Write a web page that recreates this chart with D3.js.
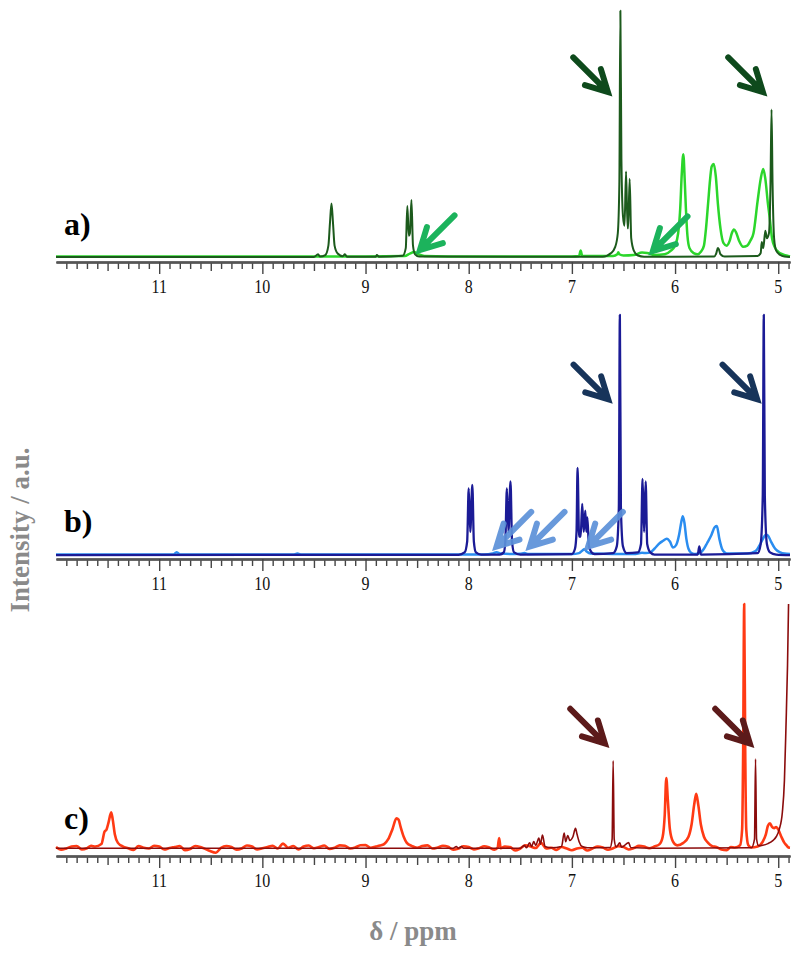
<!DOCTYPE html>
<html><head><meta charset="utf-8">
<script src="https://cdn.jsdelivr.net/npm/d3@7"></script>
<style>html,body{margin:0;padding:0;background:#fff}svg{display:block}</style>
</head><body>
<svg id="chart" width="800" height="956"></svg>
<script>
// ---------- DATA ----------
const tickLabels = [11, 10, 9, 8, 7, 6, 5];
const xDomain = [12.0, 4.886];
const panelLabels = ["a)", "b)", "c)"];

// panel a : [ppm, relative intensity %]
const specA_dark = [[12,0.4],[9.5,0.4],[9.46,1.5],[9.44,0.6],[9.39,1.2],[9.36,5],[9.345,14],[9.33,22],[9.315,14],[9.30,5],[9.27,1.8],[9.22,0.7],[9.2,1.5],[9.18,0.5],[8.9,0.5],[8.89,1.2],[8.87,0.5],[8.64,0.9],[8.61,4],[8.595,21],[8.58,9],[8.57,10],[8.555,23.5],[8.54,5],[8.52,1.5],[8.48,0.6],[6.70,0.5],[6.62,2],[6.58,4.5],[6.555,10],[6.54,30],[6.53,100],[6.52,40],[6.505,17],[6.49,13],[6.475,35],[6.46,12],[6.455,12],[6.44,32],[6.425,8],[6.40,3],[6.36,1],[6.3,0.5],[5.62,0.6],[5.60,2],[5.585,4],[5.575,3.5],[5.56,1.5],[5.52,0.6],[5.2,0.8],[5.17,2],[5.16,6.5],[5.145,4],[5.125,11],[5.11,8],[5.09,10],[5.075,30],[5.065,60],[5.055,30],[5.04,8],[5.02,3],[4.98,1.2],[4.94,0.6],[4.886,0.4]];
const specA_light = [[12,0.6],[9.0,0.6],[8.62,0.8],[8.57,1.8],[8.53,2.4],[8.49,1.6],[8.43,0.8],[8.2,0.6],[7.0,0.6],[6.93,0.8],[6.915,3],[6.90,0.8],[6.6,0.8],[6.56,1.5],[6.55,2.3],[6.54,1.5],[6.5,1],[6.4,1.2],[6.32,2.2],[6.27,2.0],[6.2,1.2],[6.1,1.5],[6.04,3],[6.0,5],[5.97,10],[5.95,20],[5.935,34],[5.92,42],[5.905,30],[5.895,20],[5.88,9],[5.86,4],[5.82,2],[5.78,1.5],[5.75,2.5],[5.72,5],[5.70,12],[5.68,22],[5.66,32],[5.645,37],[5.625,38],[5.605,33],[5.585,22],[5.56,12],[5.53,6],[5.50,5],[5.47,7],[5.45,10],[5.43,11.5],[5.41,10.5],[5.38,7],[5.34,4.5],[5.3,5],[5.27,7],[5.24,10],[5.20,23],[5.17,32],[5.145,36],[5.125,32],[5.10,22],[5.085,17],[5.06,8],[5.035,4.5],[5.0,2.5],[4.955,1.5],[4.92,1],[4.886,0.6]];

// panel b
const specB_dark = [[12,0.4],[8.1,0.5],[8.04,1.5],[8.015,6],[8.0,28],[7.985,10],[7.965,29.5],[7.95,6],[7.93,1.5],[7.88,0.6],[7.7,0.6],[7.66,1.5],[7.645,6],[7.63,28],[7.615,10],[7.595,31],[7.58,6],[7.56,1.5],[7.5,0.6],[7.0,0.8],[6.97,3],[6.955,10],[6.945,36.6],[6.93,8],[6.915,8],[6.90,21.6],[6.885,10],[6.87,18.8],[6.86,10],[6.85,16],[6.835,4],[6.81,1.5],[6.78,0.8],[6.6,1.2],[6.565,4],[6.545,20],[6.535,100],[6.525,20],[6.505,4],[6.47,1.2],[6.36,1.5],[6.33,5],[6.315,32],[6.30,10],[6.285,31],[6.27,5],[6.24,1.5],[6.2,0.6],[5.78,0.6],[5.765,4],[5.75,0.6],[5.2,1.2],[5.17,5],[5.15,25],[5.14,100],[5.13,25],[5.11,5],[5.08,1.5],[5.02,0.6],[4.886,0.4]];
const specB_light = [[12,0.6],[10.86,0.6],[10.83,1.6],[10.80,0.6],[9.7,0.6],[9.66,1],[9.62,0.6],[7.85,0.6],[7.77,1],[7.73,1.6],[7.69,1],[7.6,0.8],[7.5,0.9],[7.46,1.2],[7.42,0.8],[7.0,0.8],[6.93,1.2],[6.9,2.2],[6.88,2.8],[6.86,2],[6.82,1],[6.6,0.8],[6.4,0.8],[6.32,1.3],[6.28,1.2],[6.24,1.5],[6.2,3],[6.15,5.3],[6.12,6.2],[6.08,7.2],[6.05,6],[6.02,3.5],[5.99,4.5],[5.96,9],[5.94,14],[5.925,16.5],[5.91,14],[5.89,7],[5.87,3],[5.84,1.2],[5.8,0.8],[5.75,1.5],[5.72,3],[5.69,5.3],[5.65,8.5],[5.615,12],[5.595,12.4],[5.57,7],[5.54,2.5],[5.5,1],[5.3,1],[5.22,2],[5.18,4.5],[5.15,7],[5.12,8.8],[5.10,8.5],[5.07,6],[5.03,3],[4.98,1.5],[4.94,1],[4.886,0.8]];

// panel c
const specC_dark = [[12,0.3],[8.15,0.3],[8.12,1],[8.10,0.3],[8.07,1],[8.05,0.3],[7.5,0.3],[7.46,1.5],[7.44,0.5],[7.41,2.5],[7.39,1],[7.37,3],[7.35,1.5],[7.32,4.5],[7.305,2],[7.285,5.7],[7.26,1],[7.2,0.5],[7.1,1],[7.075,6.5],[7.06,3],[7.04,5.5],[7.02,3.5],[6.99,5],[6.965,8.4],[6.95,6],[6.93,3],[6.9,1],[6.85,0.5],[6.63,0.6],[6.61,4],[6.60,36],[6.59,4],[6.57,0.8],[6.535,2.5],[6.52,0.7],[6.45,2.6],[6.43,0.6],[6.2,0.3],[5.26,0.5],[5.23,4],[5.22,36.7],[5.21,4],[5.19,1.3],[5.15,1.5],[5.1,2.2],[5.05,3.5],[5.02,5],[4.99,8],[4.96,15],[4.94,28],[4.925,50],[4.91,75],[4.9,100]];
const specC_light = [[12,0.8],[11.95,-0.3],[11.9,0.2],[11.85,1],[11.8,1.2],[11.75,-0.2],[11.7,0.3],[11.66,1.3],[11.62,1],[11.56,2],[11.53,7],[11.51,8],[11.49,11],[11.465,15],[11.45,12],[11.43,6],[11.4,2.5],[11.35,1],[11.3,0.3],[11.25,-0.4],[11.2,1.2],[11.15,0.5],[11.1,0.2],[11.05,1.3],[11.0,1],[10.95,-0.2],[10.9,0.4],[10.85,0.8],[10.8,1.2],[10.75,-0.5],[10.7,0],[10.65,1.2],[10.6,0.8],[10.52,-0.6],[10.45,-1.5],[10.4,0.5],[10.35,1.2],[10.3,0.8],[10.25,-0.3],[10.2,0.2],[10.15,1.4],[10.1,1],[10.05,-0.2],[10.0,0.3],[9.95,0.8],[9.9,1.3],[9.85,0.2],[9.8,2.2],[9.75,0.5],[9.7,1.2],[9.65,-0.2],[9.6,1],[9.55,1.4],[9.5,0.3],[9.45,0.8],[9.4,1.4],[9.35,0],[9.3,0.5],[9.25,1.5],[9.2,1.3],[9.15,0.2],[9.1,0.6],[9.05,1.5],[9.0,1.6],[8.95,0.5],[8.9,1],[8.86,1.4],[8.82,2],[8.78,4],[8.74,8],[8.70,12.5],[8.68,12],[8.66,9],[8.63,5],[8.60,2.5],[8.55,1.2],[8.5,0.5],[8.45,1.2],[8.4,1.5],[8.35,0.2],[8.3,0.6],[8.25,1.3],[8.2,0.9],[8.15,-0.3],[8.1,0.2],[8.05,1.1],[8.0,0.8],[7.95,-0.2],[7.9,0.3],[7.85,1.1],[7.8,0.6],[7.75,-0.3],[7.72,0.5],[7.705,4.5],[7.69,0.3],[7.65,1],[7.6,0.8],[7.55,-0.6],[7.5,0.2],[7.45,1.5],[7.4,1],[7.35,0.4],[7.3,2.5],[7.25,0.2],[7.2,0.5],[7.15,-0.4],[7.1,0.8],[7.05,0.2],[7.0,-0.5],[6.95,0.2],[6.9,0.5],[6.85,-0.6],[6.8,0.2],[6.75,1],[6.7,0.6],[6.65,-0.3],[6.6,0.3],[6.55,1.1],[6.5,0.8],[6.45,-0.2],[6.4,0.4],[6.35,1.3],[6.3,1],[6.25,0.3],[6.2,1],[6.15,2],[6.12,5],[6.10,14],[6.085,29],[6.07,20],[6.05,8],[6.02,3],[5.98,1.5],[5.92,2.5],[5.87,5],[5.84,10],[5.815,18],[5.795,22.5],[5.775,18],[5.75,10],[5.72,5],[5.68,2.5],[5.64,1.2],[5.6,0.8],[5.55,-0.2],[5.5,-0.5],[5.46,0.8],[5.42,0.6],[5.37,1.5],[5.35,8],[5.34,40],[5.33,100],[5.32,40],[5.31,8],[5.29,1.5],[5.26,0.6],[5.2,1],[5.15,3],[5.12,6],[5.10,9.5],[5.08,10.5],[5.06,9],[5.04,8.5],[5.02,9],[5.0,8],[4.97,5],[4.94,2.5],[4.92,1.5],[4.9,0.6],[4.886,0.5]];

// arrows: tip [ppm, intensity %]
const arrowsA_dark = [[6.651, 67.1], [5.149, 67.1]];
const arrowsA_light = [[8.473, 3.2], [6.215, 2.8]];
const arrowsB_dark = [[6.648, 65.0], [5.204, 65.0]];
const arrowsB_light = [[7.730, 3.9], [7.407, 3.9], [6.842, 3.9]];
const arrowsC_dark = [[6.680, 43.1], [5.275, 43.1]];

// ---------- LAYOUT ----------
const svg = d3.select("#chart");
const x = d3.scaleLinear().domain(xDomain).range([56, 790]);
const panels = [
  {axisY: 262, base: 258, top: 10.7, label: panelLabels[0],
   series: [{d: specA_light, c: "#2bd62b", w: 2.5}, {d: specA_dark, c: "#1c5a1c", w: 2}],
   arrows: [{d: arrowsA_dark, c: "#0e4a1c", dir: "dr"}, {d: arrowsA_light, c: "#1cb35c", dir: "dl"}]},
  {axisY: 559, base: 556, top: 315, label: panelLabels[1],
   series: [{d: specB_light, c: "#2a8df0", w: 2.5}, {d: specB_dark, c: "#1b1b96", w: 2.3}],
   arrows: [{d: arrowsB_dark, c: "#17345a", dir: "dr"}, {d: arrowsB_light, c: "#5b90d8", dir: "dl", op: 0.92}]},
  {axisY: 856, base: 849, top: 604, label: panelLabels[2],
   series: [{d: specC_light, c: "#ff3a14", w: 2.6}, {d: specC_dark, c: "#8b0c0c", w: 1.6}],
   arrows: [{d: arrowsC_dark, c: "#5c1a1a", dir: "dr"}]}
];

const serif = "'Liberation Serif','Times New Roman',serif";

panels.forEach(p => {
  const y = d3.scaleLinear().domain([0, 100]).range([p.base, p.top]);
  const g = svg.append("g");

  const mk = (vals, size) => d3.axisBottom(x).tickValues(vals).tickSize(size).tickFormat("").tickSizeOuter(0);
  const minorVals = d3.range(49, 120).map(v => v / 10).filter(v => Math.abs(v * 2 - Math.round(v * 2)) > 1e-6);
  const halfVals = d3.range(10, 24).map(v => v / 2).filter(v => v % 1 !== 0 && v < 12 && v > 4.886);
  [[minorVals, 7], [halfVals, 9], [tickLabels, 12]].forEach(([vals, s]) => {
    const a = g.append("g").attr("transform", `translate(0,${p.axisY})`).call(mk(vals, s));
    a.select(".domain").attr("stroke", "#555").attr("stroke-width", 2);
    a.selectAll(".tick line").attr("stroke", "#444").attr("stroke-width", 1.4);
  });
  g.selectAll("text.tl").data(tickLabels).enter().append("text")
    .attr("transform", d => `translate(${x(d)},${p.axisY + 31}) scale(0.82,1)`)
    .attr("text-anchor", "middle").attr("font-family", serif).attr("font-size", 19.5)
    .attr("fill", "#111").text(d => d);

  const line = d3.line().x(d => x(d[0])).y(d => y(d[1])).curve(d3.curveMonotoneX);
  p.series.forEach(s => {
    g.append("path").datum(s.d).attr("d", line).attr("fill", "none")
      .attr("stroke", s.c).attr("stroke-width", s.w).attr("stroke-linejoin", "round");
  });

  p.arrows.forEach(a => {
    a.d.forEach(t => {
      const tx = x(t[0]), ty = y(t[1]);
      const sx = a.dir === "dr" ? 1 : -1;
      const L = 49, B = 24, ang = 28 * Math.PI / 180;
      const ux = sx / Math.SQRT2, uy = 1 / Math.SQRT2;
      const bx = -ux, by = -uy;
      const rot = (vx, vy, th) => [vx * Math.cos(th) - vy * Math.sin(th), vx * Math.sin(th) + vy * Math.cos(th)];
      const b1 = rot(bx, by, ang), b2 = rot(bx, by, -ang);
      const path = `M${tx + bx * L},${ty + by * L}L${tx - ux * 3},${ty - uy * 3}` +
        `M${tx + b1[0] * B},${ty + b1[1] * B}L${tx},${ty}L${tx + b2[0] * B},${ty + b2[1] * B}`;
      g.append("path").attr("d", path).attr("fill", "none").attr("stroke", a.c)
        .attr("stroke-width", 6).attr("stroke-linecap", "round").attr("stroke-linejoin", "miter")
        .attr("opacity", a.op || 1);
    });
  });

  g.append("text").attr("x", 64).attr("y", p.axisY - 27).attr("font-family", serif)
    .attr("font-weight", "bold").attr("font-size", 32).attr("fill", "#000").text(p.label);
});

svg.append("text").attr("x", 413).attr("y", 940).attr("text-anchor", "middle")
  .attr("font-family", serif).attr("font-weight", "bold").attr("font-size", 27)
  .attr("fill", "#8a8a8a").text("δ / ppm");
svg.append("text").attr("transform", "translate(29,530) rotate(-90)").attr("text-anchor", "middle")
  .attr("font-family", serif).attr("font-weight", "bold").attr("font-size", 27)
  .attr("fill", "#8a8a8a").text("Intensity / a.u.");
</script>
</body></html>
